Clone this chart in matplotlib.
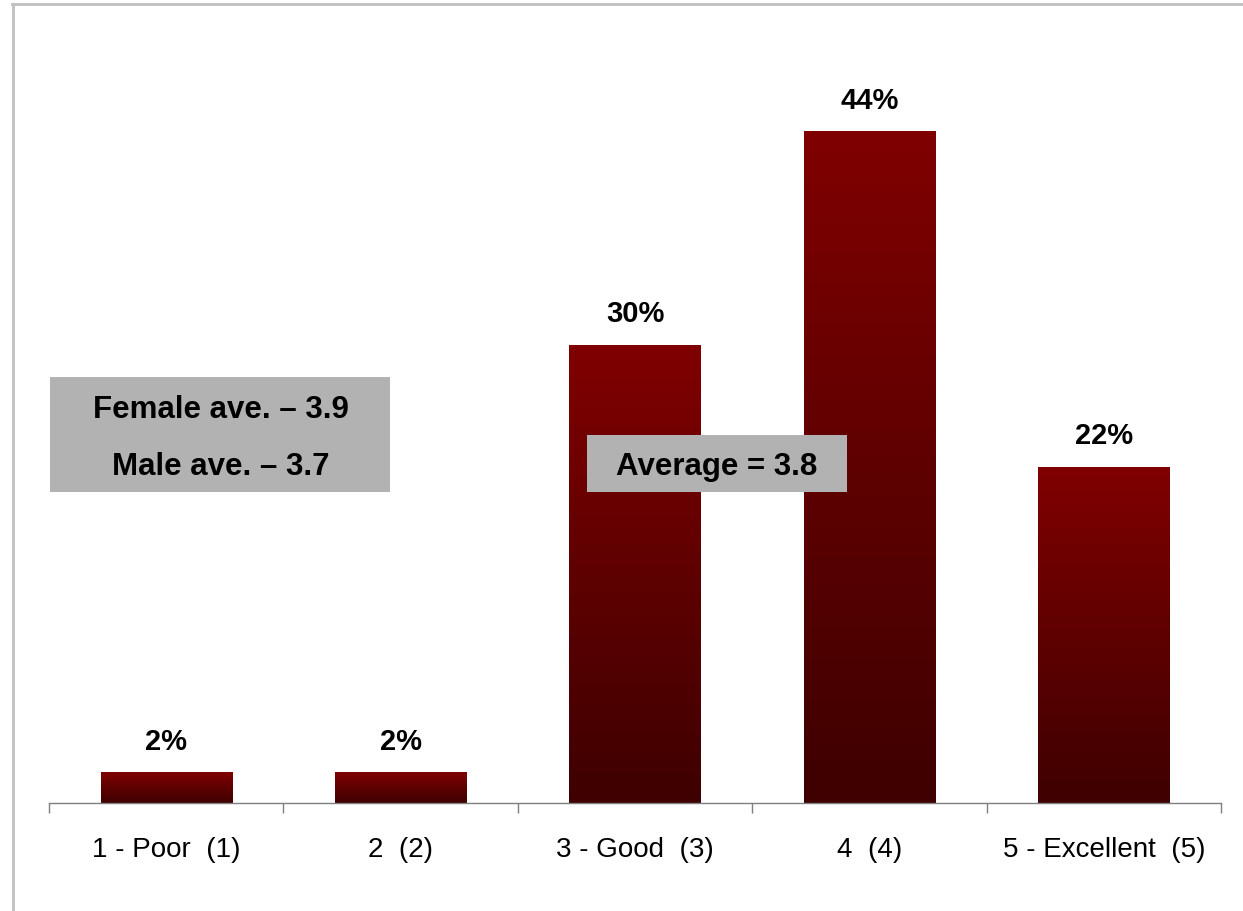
import numpy as np
import matplotlib.pyplot as plt
from matplotlib.colors import LinearSegmentedColormap
from matplotlib.patches import Rectangle
from matplotlib.lines import Line2D

plt.rcParams['font.family'] = ['Liberation Sans', 'DejaVu Sans']

categories = ["1 - Poor  (1)", "2  (2)", "3 - Good  (3)", "4  (4)", "5 - Excellent  (5)"]
percentages = [2, 2, 30, 44, 22]
gender_lines = ["Female ave. \u2013 3.9", "Male ave. \u2013 3.7"]
overall_text = "Average = 3.8"

W, H = 1243, 912
BAR_WIDTH = 0.56
TOP_RED = "#800000"
BOTTOM_RED = "#3e0000"
BOX_GRAY = "#b2b2b2"


def fx(px):
    return px / W


def fy(py):
    return 1 - py / H


fig = plt.figure(figsize=(W / 100, H / 100), dpi=100)
fig.patch.set_facecolor("white")

# axes: x from 49 to 1221 px, baseline just above 804 px
ax = fig.add_axes([fx(49), fy(804), fx(1221) - fx(49), 763.5 / H])

grad = LinearSegmentedColormap.from_list("bar_grad", [BOTTOM_RED, TOP_RED])
gradient = np.linspace(0, 1, 256).reshape(-1, 1)

xs = np.arange(1, len(categories) + 1)
bars = ax.bar(xs, percentages, width=BAR_WIDTH, color="none", edgecolor="none", zorder=2)
for bar, val in zip(bars, percentages):
    x0 = bar.get_x()
    img = ax.imshow(gradient, cmap=grad, aspect="auto", origin="lower",
                    extent=[x0, x0 + bar.get_width(), 0, val], zorder=2)
    img.set_clip_path(bar)
    ax.annotate(f"{val}%", (bar.get_x() + bar.get_width() / 2, val),
                xytext=(0, 17), textcoords="offset points",
                ha="center", va="baseline", fontsize=21, fontweight="bold")

ax.set_xlim(0.5, len(categories) + 0.5)
ax.set_ylim(0, 50)

for side in ["left", "right", "top"]:
    ax.spines[side].set_visible(False)
ax.spines["bottom"].set_color("#7f7f7f")
ax.spines["bottom"].set_linewidth(1.0)
ax.spines["bottom"].set_zorder(3)
ax.set_yticks([])

ax.set_xticks(xs)
ax.set_xticklabels(categories, fontsize=20)
ax.tick_params(axis="x", which="major", length=0, pad=24)
ax.set_xticks(np.arange(0.5, len(categories) + 1, 1), minor=True)
ax.tick_params(axis="x", which="minor", length=7, width=1.0, color="#7f7f7f", direction="out")

# gender averages box
fig.patches.append(Rectangle((fx(50), fy(493)), fx(390) - fx(50), fy(378) - fy(493),
                             transform=fig.transFigure, facecolor=BOX_GRAY,
                             edgecolor="none", zorder=5))
fig.text(fx(221), fy(410), gender_lines[0], ha="center", va="center",
         fontsize=22.5, fontweight="bold", zorder=6)
fig.text(fx(221), fy(467), gender_lines[1], ha="center", va="center",
         fontsize=22.5, fontweight="bold", zorder=6)

# overall average box
fig.patches.append(Rectangle((fx(587), fy(493)), fx(847) - fx(587), fy(436) - fy(493),
                             transform=fig.transFigure, facecolor=BOX_GRAY,
                             edgecolor="none", zorder=5))
fig.text(fx(717), fy(467), overall_text, ha="center", va="center",
         fontsize=22.5, fontweight="bold", zorder=6)

# frame edges
fig.lines.append(Line2D([fx(12), 1], [fy(4.5), fy(4.5)], transform=fig.transFigure,
                        color="#c0c0c0", linewidth=2))
fig.lines.append(Line2D([fx(12.5), fx(12.5)], [0, fy(4.5)], transform=fig.transFigure,
                        color="#c0c0c0", linewidth=2))

fig.savefig("out.png", dpi=100)
